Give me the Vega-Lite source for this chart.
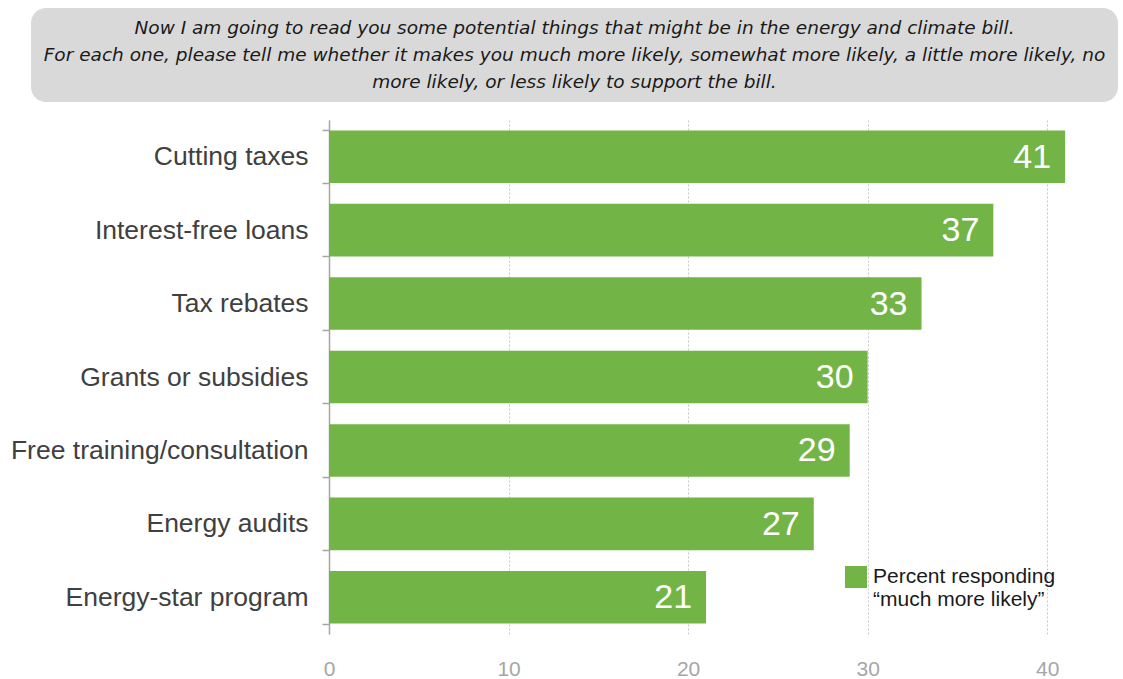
{
  "$schema": "https://vega.github.io/schema/vega-lite/v6.json",
  "padding": {"left": 10, "top": 8, "right": 5, "bottom": 0},
  "background": "white",
  "spacing": 5,
  "resolve": {"legend": {"color": "independent"}},
  "config": {"font": "Liberation Sans", "view": {"stroke": null}},
  "vconcat": [
    {
      "width": 1087,
      "height": 94,
      "view": {"fill": "#d9d9d9", "cornerRadius": 15, "stroke": null},
      "data": {"values": [
        {"line": 1, "text": "Now I am going to read you some potential things that might be in the energy and climate bill."},
        {"line": 2, "text": "For each one, please tell me whether it makes you much more likely, somewhat more likely, a little more likely, no"},
        {"line": 3, "text": "more likely, or less likely to support the bill."}
      ]},
      "mark": {"type": "text", "font": "DejaVu Sans", "fontStyle": "italic", "fontSize": 18.5, "color": "#1a1a1a", "baseline": "middle", "align": "center"},
      "encoding": {
        "y": {"field": "line", "type": "ordinal", "scale": {"padding": 0.74}, "axis": null},
        "text": {"field": "text"}
      }
    },
    {
      "width": 1088,
      "height": 514,
      "data": {"values": [
        {"item": "Cutting taxes", "value": 41, "series": "Percent responding “much more likely”"},
        {"item": "Interest-free loans", "value": 37, "series": "Percent responding “much more likely”"},
        {"item": "Tax rebates", "value": 33, "series": "Percent responding “much more likely”"},
        {"item": "Grants or subsidies", "value": 30, "series": "Percent responding “much more likely”"},
        {"item": "Free training/consultation", "value": 29, "series": "Percent responding “much more likely”"},
        {"item": "Energy audits", "value": 27, "series": "Percent responding “much more likely”"},
        {"item": "Energy-star program", "value": 21, "series": "Percent responding “much more likely”"}
      ]},
      "encoding": {
        "y": {"field": "item", "type": "nominal", "sort": null,
              "scale": {"paddingInner": 0.284, "paddingOuter": 0.142},
              "axis": {"title": null, "offset": -298, "tickBand": "extent", "tickSize": 7, "tickColor": "#a6a6a6", "tickWidth": 1.5,
                       "domainColor": "#a6a6a6", "domainWidth": 1.5, "labelFontSize": 26.5, "labelColor": "#404040",
                       "labelPadding": 14, "labelLimit": 400}},
        "x": {"field": "value", "type": "quantitative",
              "scale": {"domain": [-16.6, 44], "nice": false, "zero": false},
              "axis": {"title": null, "values": [0, 10, 20, 30, 40], "ticks": false, "domain": false, "grid": true,
                       "gridDash": [2, 2], "gridColor": "#c8c8c8", "labelColor": "#a6a6a6", "labelFontSize": 21,
                       "labelPadding": 24}}
      },
      "layer": [
        {
          "mark": {"type": "bar"},
          "encoding": {
            "color": {"field": "series", "type": "nominal", "scale": {"range": ["#72b546"]},
                      "legend": {"title": null, "orient": "none", "legendX": 814, "legendY": 446, "padding": 0,
                                 "symbolType": "square", "symbolSize": 484, "symbolStrokeWidth": 0, "symbolOpacity": 1,
                                 "labelOffset": 6, "labelFontSize": 21, "labelColor": "#1a1a1a", "labelLimit": 400,
                                 "labelLineHeight": 25, "labelBaseline": "middle",
                                 "labelExpr": "['Percent responding', '“much more likely”']"}}
          }
        },
        {
          "mark": {"type": "text", "align": "right", "baseline": "middle", "dx": -14, "dy": 1, "color": "white", "fontSize": 34},
          "encoding": {"text": {"field": "value", "type": "quantitative"}}
        }
      ]
    }
  ]
}
